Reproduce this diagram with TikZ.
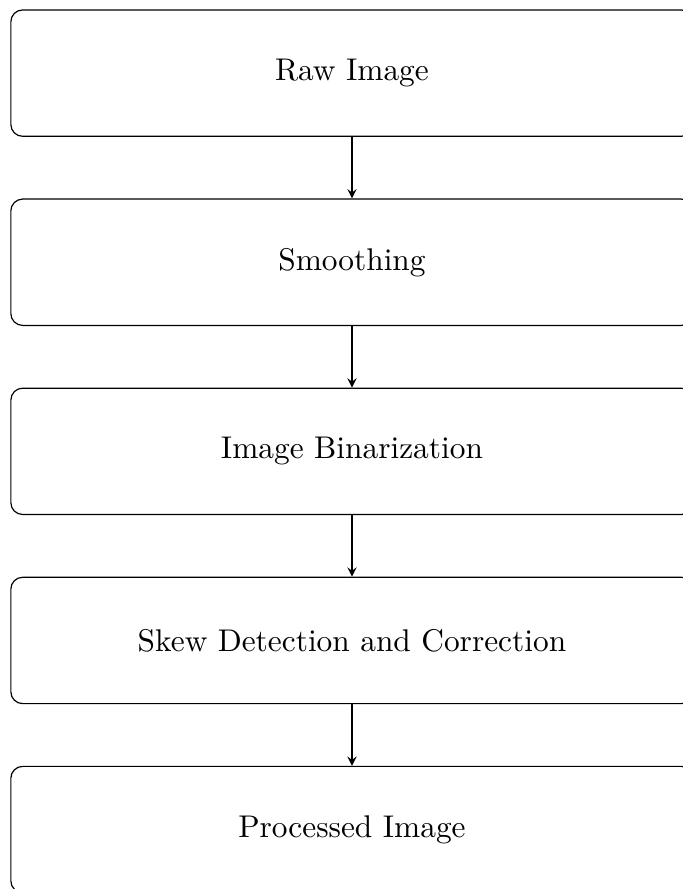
\documentclass[tikz,border=0pt]{standalone}
\usepackage{tikz}
\usetikzlibrary{positioning}

\begin{document}
\begin{tikzpicture}[node distance=20.8pt,
	stagebox/.style={draw, rectangle, rounded corners, minimum width=8.1cm, minimum height=1.5cm, font=\fontsize{10.6pt}{12.7pt}\selectfont},
	flow/.style={-stealth}]
	\useasboundingbox (-118.9pt,24.7pt) rectangle (111.8pt,-275.6pt);

	\node[stagebox] (raw) at (0,0) {Raw Image};
	\node[stagebox, below=of raw] (smooth) {Smoothing};
	\node[stagebox, below=of smooth] (binar) {Image Binarization};
	\node[stagebox, below=of binar] (skew) {Skew Detection and Correction};
	\node[stagebox, below=of skew] (proc) {Processed Image};

	\draw [flow] (raw) -- (smooth);
	\draw [flow] (smooth) -- (binar);
	\draw [flow] (binar) -- (skew);
	\draw [flow] (skew) -- (proc);
\end{tikzpicture}
\end{document}
